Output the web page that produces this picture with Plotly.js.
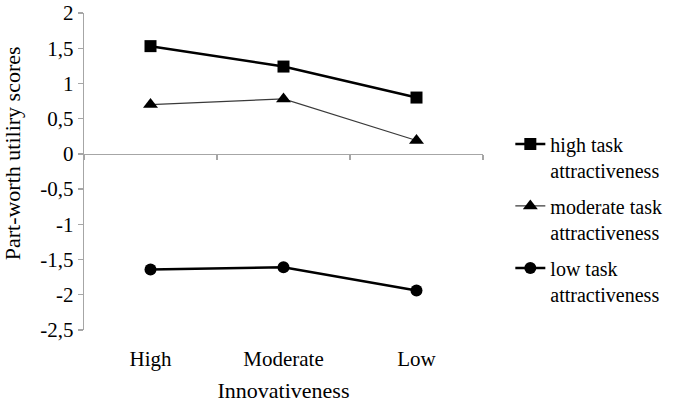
<!DOCTYPE html>
<html>
<head>
<meta charset="utf-8">
<script src="https://cdn.plot.ly/plotly-3.0.1.min.js"></script>
<style>html,body{margin:0;padding:0;background:#fff;}#chart{width:685px;height:404px;}</style>
</head>
<body>
<div id="chart"></div>
<script>
const categories = ['High', 'Moderate', 'Low'];
const highTask = [1.53, 1.24, 0.80];
const moderateTask = [0.70, 0.78, 0.19];
const lowTask = [-1.64, -1.61, -1.94];
const seriesNames = ['high task<br>attractiveness', 'moderate task<br>attractiveness', 'low task<br>attractiveness'];
const yTickVals = [2, 1.5, 1, 0.5, 0, -0.5, -1, -1.5, -2, -2.5];
const yTickText = ['2', '1,5', '1', '0,5', '0', '-0,5', '-1', '-1,5', '-2', '-2,5'];
const xTitle = 'Innovativeness';
const yTitle = 'Part-worth utiliry scores';
const xIdx = categories.map((c, i) => i);
const boundaryTicks = [-0.5, 0.5, 1.5, 2.5];

const fam = 'Liberation Serif, DejaVu Serif, serif';
const font = {family: fam, size: 21, color: '#000'};
const titleFont = {family: fam, size: 22, color: '#000'};

const traces = [
  {x: xIdx, y: highTask, name: seriesNames[0], mode: 'lines+markers', legendgroup: 'a',
   line: {color: '#000', width: 2.5}, marker: {symbol: 'square', size: 12, color: '#000'}},
  {x: xIdx, y: moderateTask, name: seriesNames[1], mode: 'lines+markers', legendgroup: 'b',
   line: {color: '#3a3a3a', width: 1.2}, marker: {symbol: 'triangle-up', size: 13, color: '#000'}},
  {x: xIdx, y: lowTask, name: seriesNames[2], mode: 'lines+markers', legendgroup: 'c',
   line: {color: '#000', width: 2.5}, marker: {symbol: 'circle', size: 12, color: '#000'}},
  {x: [], y: [], xaxis: 'x2', yaxis: 'y', showlegend: false, hoverinfo: 'skip'}
];

const layout = {
  width: 685, height: 404,
  margin: {l: 84, r: 202, t: 13, b: 74},
  paper_bgcolor: '#fff', plot_bgcolor: '#fff',
  font: font,
  showlegend: true,
  legend: {
    xref: 'container', yref: 'container', x: 0.745, y: 0.692, xanchor: 'left', yanchor: 'top',
    traceorder: 'grouped', tracegroupgap: 7, valign: 'top',
    font: {family: fam, size: 20, color: '#000'}, bgcolor: 'rgba(0,0,0,0)'
  },
  annotations: [
    {text: yTitle, xref: 'paper', yref: 'paper', x: -0.18, y: 0.558, xanchor: 'center', yanchor: 'middle',
     textangle: -90, showarrow: false, font: titleFont}
  ],
  xaxis: {
    range: [-0.5, 2.5], tickvals: xIdx, ticktext: categories,
    showline: false, showgrid: false, zeroline: false,
    ticks: 'outside', ticklen: 10, tickcolor: 'rgba(0,0,0,0)',
    title: {text: xTitle, font: titleFont, standoff: 12},
    fixedrange: true
  },
  xaxis2: {
    range: [-0.5, 2.5], overlaying: 'x', anchor: 'free', position: 2.5 / 4.5,
    tickvals: boundaryTicks, showticklabels: false,
    showline: true, linecolor: '#a6a6a6', linewidth: 1.3,
    ticks: 'outside', ticklen: 5, tickcolor: '#a6a6a6', tickwidth: 1.3,
    showgrid: false, zeroline: false
  },
  yaxis: {
    range: [-2.5005, 2.0005], tickvals: yTickVals, ticktext: yTickText,
    ticklabeloverflow: 'allow',
    showline: true, linecolor: '#a6a6a6', linewidth: 1.3,
    ticks: 'outside', ticklen: 5, tickcolor: '#a6a6a6', tickwidth: 1.3,
    showgrid: false, zeroline: false,
    fixedrange: true
  }
};

Plotly.newPlot('chart', traces, layout, {displayModeBar: false, staticPlot: true});
</script>
</body>
</html>
